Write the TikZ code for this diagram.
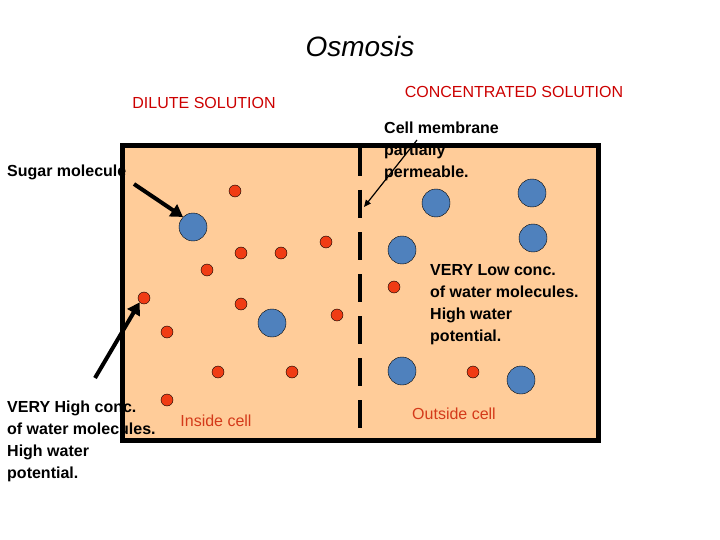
\documentclass[tikz,border=0pt]{standalone}
\usepackage{fontspec}
\setmainfont{Liberation Sans}
\usetikzlibrary{arrows.meta,positioning}
\definecolor{peach}{HTML}{FFCC99}
\definecolor{sugarblue}{HTML}{4F81BD}
\definecolor{waterred}{HTML}{F03C14}
\definecolor{labelred}{HTML}{D43A1A}
\begin{document}
\begin{tikzpicture}[x=1pt,y=-1pt,
    sugar/.style={circle,draw=black,fill=sugarblue,minimum size=28pt,inner sep=0pt},
    water/.style={circle,draw=black,fill=waterred,minimum size=12pt,inner sep=0pt},
    txt/.style={font=\fontsize{16}{22}\selectfont\bfseries,align=left,inner sep=0pt},
    redtxt/.style={font=\fontsize{16}{20}\selectfont,text=labelred,inner sep=0pt}]
  \useasboundingbox (0,0) rectangle (720,540);

  % cell
  \draw[line width=5pt,fill=peach] (122,146) rectangle (598,440);
  \draw[line width=4pt,dash pattern=on 28pt off 14pt] (360,148) -- (360,438);

  % sugar molecules
  \foreach \n/\x/\y in {a/193/227,b/272/323,c/436/203,d/532/193,e/402/250,f/533/238,g/402/371,h/521/380}
    \node[sugar] (s\n) at (\x,\y) {};

  % water molecules
  \foreach \n/\x/\y in {a/235/191,b/241/253,c/281/253,d/326/242,e/207/270,f/144/298,g/241/304,h/167/332,i/218/372,j/292/372,k/337/315,l/167/400,m/394/287,n/473/372}
    \node[water] (w\n) at (\x,\y) {};

  % labels
  \node[font=\fontsize{28}{30}\selectfont\itshape] (title) at (360,46) {Osmosis};
  \node[redtxt,text=red!80!black] (dilute) at (204,103) {DILUTE SOLUTION};
  \node[redtxt,text=red!80!black] (conc) at (514,92) {CONCENTRATED SOLUTION};
  \node[txt,anchor=west] (sugarlbl) at (7,172) {Sugar molecule};
  \node[txt,anchor=north west] (memlbl) at (384,122) {Cell membrane\\partially\\permeable.};
  \node[txt,anchor=north west] (lowlbl) at (430,264) {VERY Low conc.\\of water molecules.\\High water\\potential.};
  \node[txt,anchor=north west] (highlbl) at (7,401) {VERY High conc.\\of water molecules.\\High water\\potential.};
  \node[redtxt] (inside) at (216,421) {Inside cell};
  \node[redtxt] (outside) at (454,414) {Outside cell};

  % pointers
  \coordinate (p1) at (134,184);
  \coordinate (p2) at (95,378);
  \coordinate (p3) at (417,140);
  \draw[line width=4pt,-{Triangle[length=12pt,width=14pt]}] (p1) -- (sa.north west);
  \draw[line width=4pt,-{Triangle[length=12pt,width=14pt]}] (p2) -- (wf.south west);
  \draw[line width=1.2pt,-{Triangle[length=7pt,width=6pt]}] (p3) -- (364,207);
\end{tikzpicture}
\end{document}
